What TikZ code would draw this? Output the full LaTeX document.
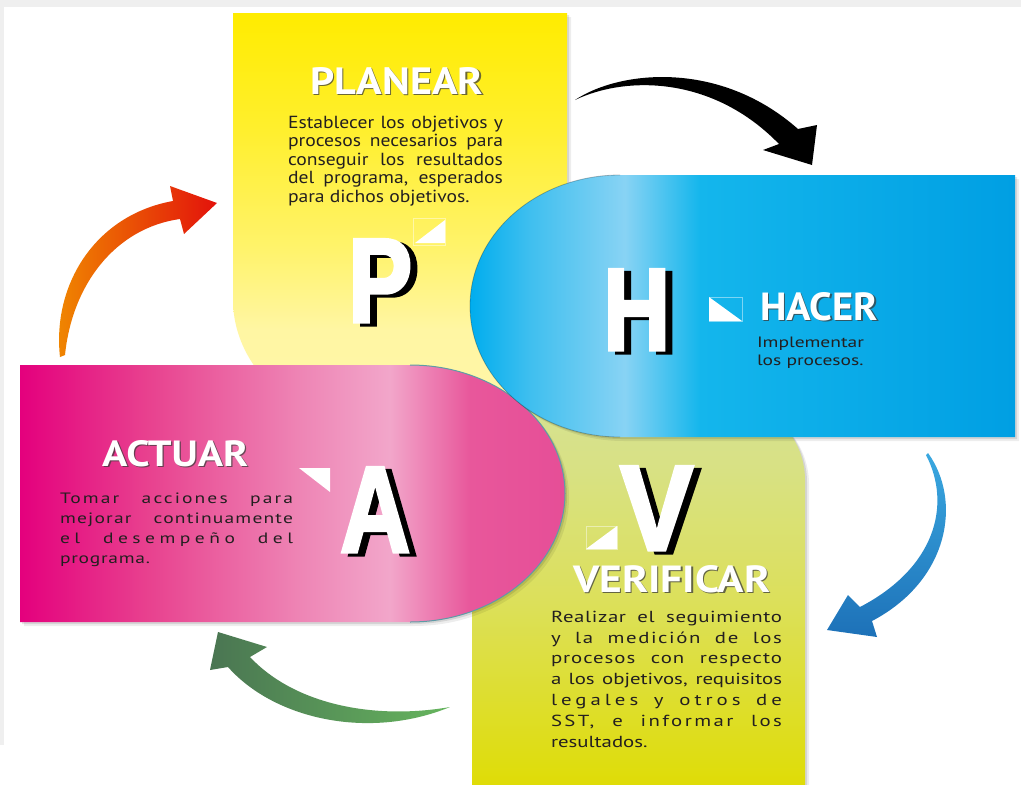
\documentclass[tikz,border=0pt]{standalone}
\usepackage{fontspec}
\usepackage{graphicx}
\setmainfont{PT Sans}
\newfontfamily\bodyf{PT Sans}[FakeStretch=1.3]
\newfontfamily\bodyP{PT Sans}[FakeStretch=1.12]
\newfontfamily\titlef{PT Sans}
\newfontfamily\bigf{Liberation Sans}[FakeBold=3]
\definecolor{txt}{HTML}{231F20}
\definecolor{bggray}{HTML}{EFEFEF}
\definecolor{ttlshade}{HTML}{3C3C3C}
\definecolor{ye0}{HTML}{FFF6A8}\definecolor{ye1}{HTML}{FFF6A3}\definecolor{ye2}{HTML}{FFF36C}
\definecolor{ye3}{HTML}{FFEF2E}\definecolor{ye4}{HTML}{FFEC00}
\definecolor{ol0}{HTML}{DFDC00}\definecolor{ol1}{HTML}{DCE05A}\definecolor{ol2}{HTML}{D8E184}\definecolor{ol3}{HTML}{D6E292}
\definecolor{pk0}{HTML}{E4007D}\definecolor{pk1}{HTML}{E8428F}\definecolor{pk2}{HTML}{EE85B5}
\definecolor{pk3}{HTML}{F2A6CA}\definecolor{pk4}{HTML}{E8579B}\definecolor{pk5}{HTML}{E64E97}
\definecolor{bl0}{HTML}{00ADEE}\definecolor{bl1}{HTML}{3FBFEF}\definecolor{bl2}{HTML}{88D3F4}
\definecolor{bl3}{HTML}{14B6EC}\definecolor{bl4}{HTML}{009FE3}
\definecolor{pinkedge}{HTML}{5E9CA6}
\definecolor{orA}{HTML}{F08A00}\definecolor{orB}{HTML}{E3120B}
\definecolor{grA}{HTML}{4A7552}\definecolor{grB}{HTML}{66B55E}
\definecolor{buA}{HTML}{3AA8E0}\definecolor{buB}{HTML}{1D71B8}
\pgfdeclareverticalshading{yellowshade}{100bp}{color(0bp)=(ye0); color(25bp)=(ye0); color(36.1bp)=(ye1); color(45.9bp)=(ye2); color(60.6bp)=(ye3); color(75bp)=(ye4); color(100bp)=(ye4)}
\pgfdeclareverticalshading{oliveshade}{100bp}{color(0bp)=(ol0); color(25bp)=(ol0); color(49.7bp)=(ol1); color(66.6bp)=(ol2); color(75bp)=(ol3); color(100bp)=(ol3)}
\pgfdeclarehorizontalshading{pinkshade}{100bp}{color(0bp)=(pk0); color(25bp)=(pk0); color(36.9bp)=(pk1); color(50.7bp)=(pk2); color(58.9bp)=(pk3); color(66.3bp)=(pk4); color(75bp)=(pk5); color(100bp)=(pk5)}
\pgfdeclarehorizontalshading{blueshade}{100bp}{color(0bp)=(bl0); color(25bp)=(bl0); color(30.5bp)=(bl1); color(39.2bp)=(bl2); color(46.1bp)=(bl3); color(75bp)=(bl4); color(100bp)=(bl4)}
\newcommand{\jl}[3]{\makebox[#1][s]{\addfontfeatures{LetterSpace=#2}#3}}
\newcommand{\ttlnode}[6]{%
  \node[ttlsh, xshift=1.3pt, yshift=-1.3pt] (#1s) at (#2,#3) {\resizebox{#4pt}{#5pt}{\titlef\bfseries #6}};
  \node[ttl] (#1) at (#2,#3) {\resizebox{#4pt}{#5pt}{\titlef\bfseries #6}};}
\newcommand{\bignode}[6]{%
  \node[biglsh, xshift=7pt, yshift=-3pt] (#1s) at (#2,#3) {\resizebox{#4pt}{#5pt}{\bigf\bfseries #6}};
  \node[bigl] (#1) at (#2,#3) {\resizebox{#4pt}{#5pt}{\bigf\bfseries #6}};}
\tikzset{
  body/.style={anchor=base west, inner sep=0pt, outer sep=0pt, text=txt},
  ttl/.style={anchor=south west, inner sep=0pt, text=white},
  ttlsh/.style={anchor=south west, inner sep=0pt, text=ttlshade, text opacity=0.75},
  bigl/.style={anchor=south west, inner sep=0pt, text=white},
  biglsh/.style={anchor=south west, inner sep=0pt, text=black},
  tri/.style={fill=white},
  triframe/.style={draw=white, draw opacity=0.45, line width=0.6pt},
  pshadowA/.style={fill=black, fill opacity=0.10},
  pshadowB/.style={fill=black, fill opacity=0.07},
}
\begin{document}
\begin{tikzpicture}[x=1pt, y=-1pt]
\useasboundingbox (0,0) rectangle (1021,785);
\fill[white] (0,0) rectangle (1021,785);
\fill[bggray] (0,0) rectangle (1021,7);
\fill[bggray] (0,0) rectangle (4,745);

\def\PathYellow{(233,300) -- (233,13) -- (567,13) -- (567,420) -- (330,420) .. controls (268,400) and (233,350) .. (233,300) -- cycle}
\def\PathOlive{(472,800) -- (472,400) -- (725,400) .. controls (769,400) and (805,436) .. (805,480) -- (805,800) -- cycle}
\def\PathPink{(20,365) -- (410,365) arc[start angle=-90, end angle=90, x radius=155, y radius=128.5] -- (20,622) -- cycle}
\def\PathBlue{(1015,175) -- (620,175) arc[start angle=270, end angle=90, x radius=150, y radius=131] -- (1015,437) -- cycle}

% arrows
\fill[black] (575,100) .. controls (620,70) and (720,60) .. (798,129) -- (817,125) -- (812,165) -- (763,150) -- (779,144) .. controls (712,75) and (625,76) .. (575,100) -- cycle;
\shade[top color=buA, bottom color=buB] (928,453) .. controls (962,500) and (950,580) .. (872,621) -- (877,637) -- (827,630) -- (848,595) -- (860,607) .. controls (935,568) and (952,505) .. (926,455) -- cycle;
\shade[left color=grA, right color=grB] (450,707) .. controls (370,740) and (275,720) .. (228,667) -- (210,670) -- (218,632) -- (267,647) -- (250,657) .. controls (295,705) and (375,720) .. (450,707) -- cycle;
\shade[left color=orA, right color=orB] (60,357) .. controls (52,285) and (95,215) .. (173,201) -- (170,186) -- (217,203) -- (184,234) -- (180,219) .. controls (115,228) and (72,285) .. (65,355) -- cycle;

% yellow panel
\fill[pshadowB, shift={(4,4)}] \PathYellow;
\fill[pshadowA, shift={(2,2)}] \PathYellow;
\shade[shading=yellowshade] \PathYellow;
% olive panel
\fill[pshadowB, shift={(4,4)}] \PathOlive;
\fill[pshadowA, shift={(2,2)}] \PathOlive;
\shade[shading=oliveshade] \PathOlive;
% pink panel
\fill[pshadowB, shift={(4,4)}] \PathPink;
\fill[pshadowA, shift={(2,2)}] \PathPink;
\shade[shading=pinkshade] \PathPink;
\draw[pinkedge, line width=1pt] (410,365) arc[start angle=-90, end angle=90, x radius=155, y radius=128.5];
% blue panel
\fill[pshadowB, shift={(4,4)}] \PathBlue;
\fill[pshadowA, shift={(2,2)}] \PathBlue;
\shade[shading=blueshade] \PathBlue;
\draw[black, draw opacity=0.25, line width=0.8pt] (620,175) arc[start angle=270, end angle=90, x radius=150, y radius=131];

% triangles
\draw[triframe] (413,218) rectangle (445,245);
\fill[tri] (415,243) -- (445,243) -- (445,220) -- cycle;
\draw[triframe] (709,297) rectangle (742,321);
\fill[tri] (709,297) -- (709,321) -- (742,321) -- cycle;
\fill[tri] (299,468) -- (330,468) -- (330,492) -- cycle;
\draw[triframe] (586,526) rectangle (617,549);
\fill[tri] (586,549) -- (617,549) -- (617,526) -- cycle;

% big letters
\bignode{bigP}{348}{322}{64}{82}{P}
\bignode{bigH}{603}{350}{67}{80}{H}
\bignode{bigA}{340}{552}{70}{84}{A}
\bignode{bigV}{620}{550}{73}{83}{V}

% titles
\ttlnode{planear}{310}{95}{173}{27}{PLANEAR}
\ttlnode{hacer}{760}{321}{118}{28}{HACER}
\ttlnode{actuar}{102}{467}{146}{26}{ACTUAR}
\ttlnode{verificar}{573}{593}{197}{27}{VERIFICAR}

% PLANEAR body
\begin{scope}[every node/.style={body, font=\bodyP\fontsize{17.5}{19}\selectfont}]
\node (p1) at (288,128) {\jl{215pt}{0}{Establecer los objetivos y}};
\node (p2) at (288,146.5) {\jl{215pt}{0}{procesos necesarios para}};
\node (p3) at (288,165) {\jl{215pt}{0}{conseguir los resultados}};
\node (p4) at (288,183.5) {\jl{215pt}{0}{del programa, esperados}};
\node (p5) at (288,202) {para dichos objetivos.};
\end{scope}
% HACER body
\begin{scope}[every node/.style={body, font=\bodyf\fontsize{15}{18}\selectfont}]
\node (h1) at (757,347) {Implementar};
\node (h2) at (757,365) {los procesos.};
\end{scope}
% ACTUAR body
\begin{scope}[every node/.style={body, font=\bodyf\fontsize{15}{20}\selectfont}]
\node (a1) at (60,503) {\jl{233pt}{14}{Tomar acciones para}};
\node (a2) at (60,523) {\jl{233pt}{8}{mejorar continuamente}};
\node (a3) at (60,543) {\jl{233pt}{30}{el desempeño del}};
\node (a4) at (60,563) {{\addfontfeatures{LetterSpace=5}programa.}};
\end{scope}
% VERIFICAR body
\begin{scope}[every node/.style={body, font=\bodyf\fontsize{16}{21}\selectfont}]
\node (v1) at (551,622) {\jl{231pt}{4}{Realizar el seguimiento}};
\node (v2) at (551,643) {\jl{231pt}{10}{y la medición de los}};
\node (v3) at (551,663) {\jl{231pt}{6}{procesos con respecto}};
\node (v4) at (551,684) {\jl{231pt}{0}{a los objetivos, requisitos}};
\node (v5) at (551,705) {\jl{231pt}{25}{legales y otros de}};
\node (v6) at (551,726) {\jl{231pt}{15}{SST, e informar los}};
\node (v7) at (551,747) {resultados.};
\end{scope}
\end{tikzpicture}
\end{document}
